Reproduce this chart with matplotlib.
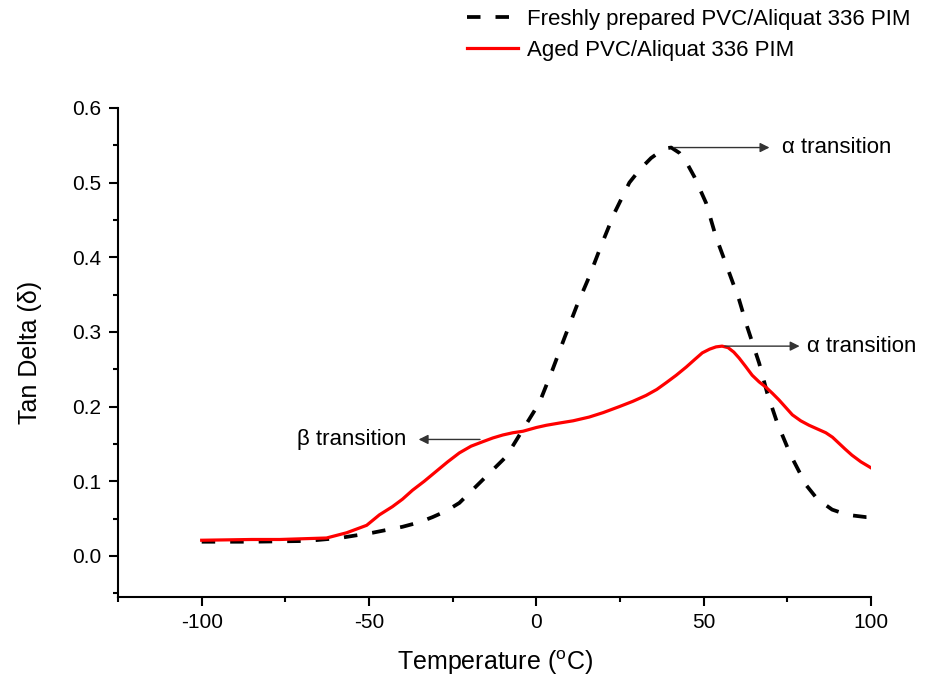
import matplotlib
matplotlib.use("Agg")
import matplotlib.pyplot as plt
from matplotlib.ticker import MultipleLocator

plt.rcParams['font.family'] = ['Liberation Sans', 'DejaVu Sans']
plt.rcParams['mathtext.fontset'] = 'custom'
plt.rcParams['mathtext.rm'] = 'Liberation Sans'
plt.rcParams['axes.unicode_minus'] = False

# Dati (temperatura in °C, tan delta)
fresh_temp = [-100, -85, -68.7, -58.8, -49, -40, -35, -31, -27, -23, -16, -9, -4.2,
              0.9, 4.8, 8.4, 12, 15.8, 19.4, 23.3, 27.8, 31, 34.3, 36.8, 38.8,
              40.3, 42.7, 45, 47.2, 50.7, 53.7, 57, 60.6, 63, 66.6, 69, 72, 76,
              80.6, 84, 88.4, 93, 98.5, 100]
fresh_tan = [0.019, 0.019, 0.020, 0.024, 0.031, 0.039, 0.045, 0.052, 0.060, 0.071,
             0.102, 0.133, 0.168, 0.205, 0.249, 0.292, 0.334, 0.374, 0.416, 0.459,
             0.500, 0.518, 0.533, 0.541, 0.546, 0.547, 0.540, 0.526, 0.508, 0.473,
             0.427, 0.387, 0.343, 0.307, 0.258, 0.218, 0.178, 0.135, 0.095, 0.076,
             0.062, 0.055, 0.052, 0.052]

aged_temp = [-100, -85, -76.7, -62.7, -56.7, -50.7, -46.9, -43, -40, -37, -33.5,
             -30, -26.5, -23, -19.5, -16, -13, -10, -7, -4, 0, 3, 6.9, 11, 15.8,
             20, 24.8, 28.8, 32.8, 36, 38.8, 41.8, 44.8, 47.3, 49.6, 51.8, 53.7,
             55.5, 57.3, 59, 60.6, 62.5, 64.5, 66.6, 68.6, 70.5, 72.5, 74.5, 76.5,
             79, 81.5, 84, 86.5, 88.5, 90.4, 92.3, 94.3, 97, 100]
aged_tan = [0.021, 0.022, 0.022, 0.024, 0.031, 0.041, 0.055, 0.066, 0.076, 0.088,
            0.100, 0.113, 0.126, 0.138, 0.147, 0.153, 0.158, 0.162, 0.165, 0.167,
            0.172, 0.175, 0.178, 0.181, 0.186, 0.192, 0.200, 0.207, 0.215, 0.223,
            0.232, 0.242, 0.253, 0.263, 0.272, 0.277, 0.280, 0.281, 0.279, 0.273,
            0.265, 0.254, 0.242, 0.233, 0.226, 0.218, 0.209, 0.199, 0.189, 0.181,
            0.175, 0.170, 0.165, 0.159, 0.151, 0.143, 0.135, 0.126, 0.118]

fig = plt.figure(figsize=(9.25, 6.77), dpi=100)
ax = fig.add_axes([0.1276, 0.1182, 0.814, 0.7223])

ax.plot(fresh_temp, fresh_tan, color='black', linewidth=2.7, dashes=(3.6, 4.0),
        label='Freshly prepared PVC/Aliquat 336 PIM')
ax.plot(aged_temp, aged_tan, color='#ff0000', linewidth=2.3,
        label='Aged PVC/Aliquat 336 PIM')

ax.set_xlim(-125, 100)
ax.set_ylim(-0.055, 0.6)
ax.xaxis.set_minor_locator(MultipleLocator(25))
ax.yaxis.set_minor_locator(MultipleLocator(0.05))
ax.set_xticks([-100, -50, 0, 50, 100])
ax.set_yticks([0.0, 0.1, 0.2, 0.3, 0.4, 0.5, 0.6])
ax.yaxis.set_major_formatter(plt.FuncFormatter(lambda v, p: f"{v:.1f}"))

for s in ['top', 'right']:
    ax.spines[s].set_visible(False)
for s in ['left', 'bottom']:
    ax.spines[s].set_linewidth(1.5)
ax.tick_params(which='major', direction='out', length=6.5, width=1.5, labelsize=15)
ax.tick_params(axis='y', which='major', pad=5.5)
ax.tick_params(axis='x', which='major', pad=5)
ax.tick_params(which='minor', direction='out', length=3.5, width=1.5)

ax.set_xlabel('Temperature ($^{\\mathrm{o}}$C)', fontsize=18, labelpad=12)
ax.set_ylabel('Tan Delta (\u03b4)', fontsize=18, labelpad=22)

# Frecce delle transizioni
arrow = dict(arrowstyle='-|>', color='#333333', lw=1.0, mutation_scale=14)
ax.annotate('', xy=(70.5, 0.547), xytext=(40.3, 0.547), arrowprops=arrow)
ax.text(73.3, 0.547, '\u03b1 transition', fontsize=16, va='center', ha='left')
ax.annotate('', xy=(79.5, 0.281), xytext=(55.5, 0.281), arrowprops=arrow)
ax.text(80.8, 0.281, '\u03b1 transition', fontsize=16, va='center', ha='left')
ax.annotate('', xy=(-36, 0.156), xytext=(-16, 0.156), arrowprops=arrow)
ax.text(-38.8, 0.156, '\u03b2 transition', fontsize=16, va='center', ha='right')

fig.legend(loc='upper left', bbox_to_anchor=(0.505, 0.987), frameon=False,
           fontsize=16, handlelength=2.3, handletextpad=0.4, labelspacing=0.45,
           borderpad=0, borderaxespad=0)

fig.savefig('out.png', dpi=100)
